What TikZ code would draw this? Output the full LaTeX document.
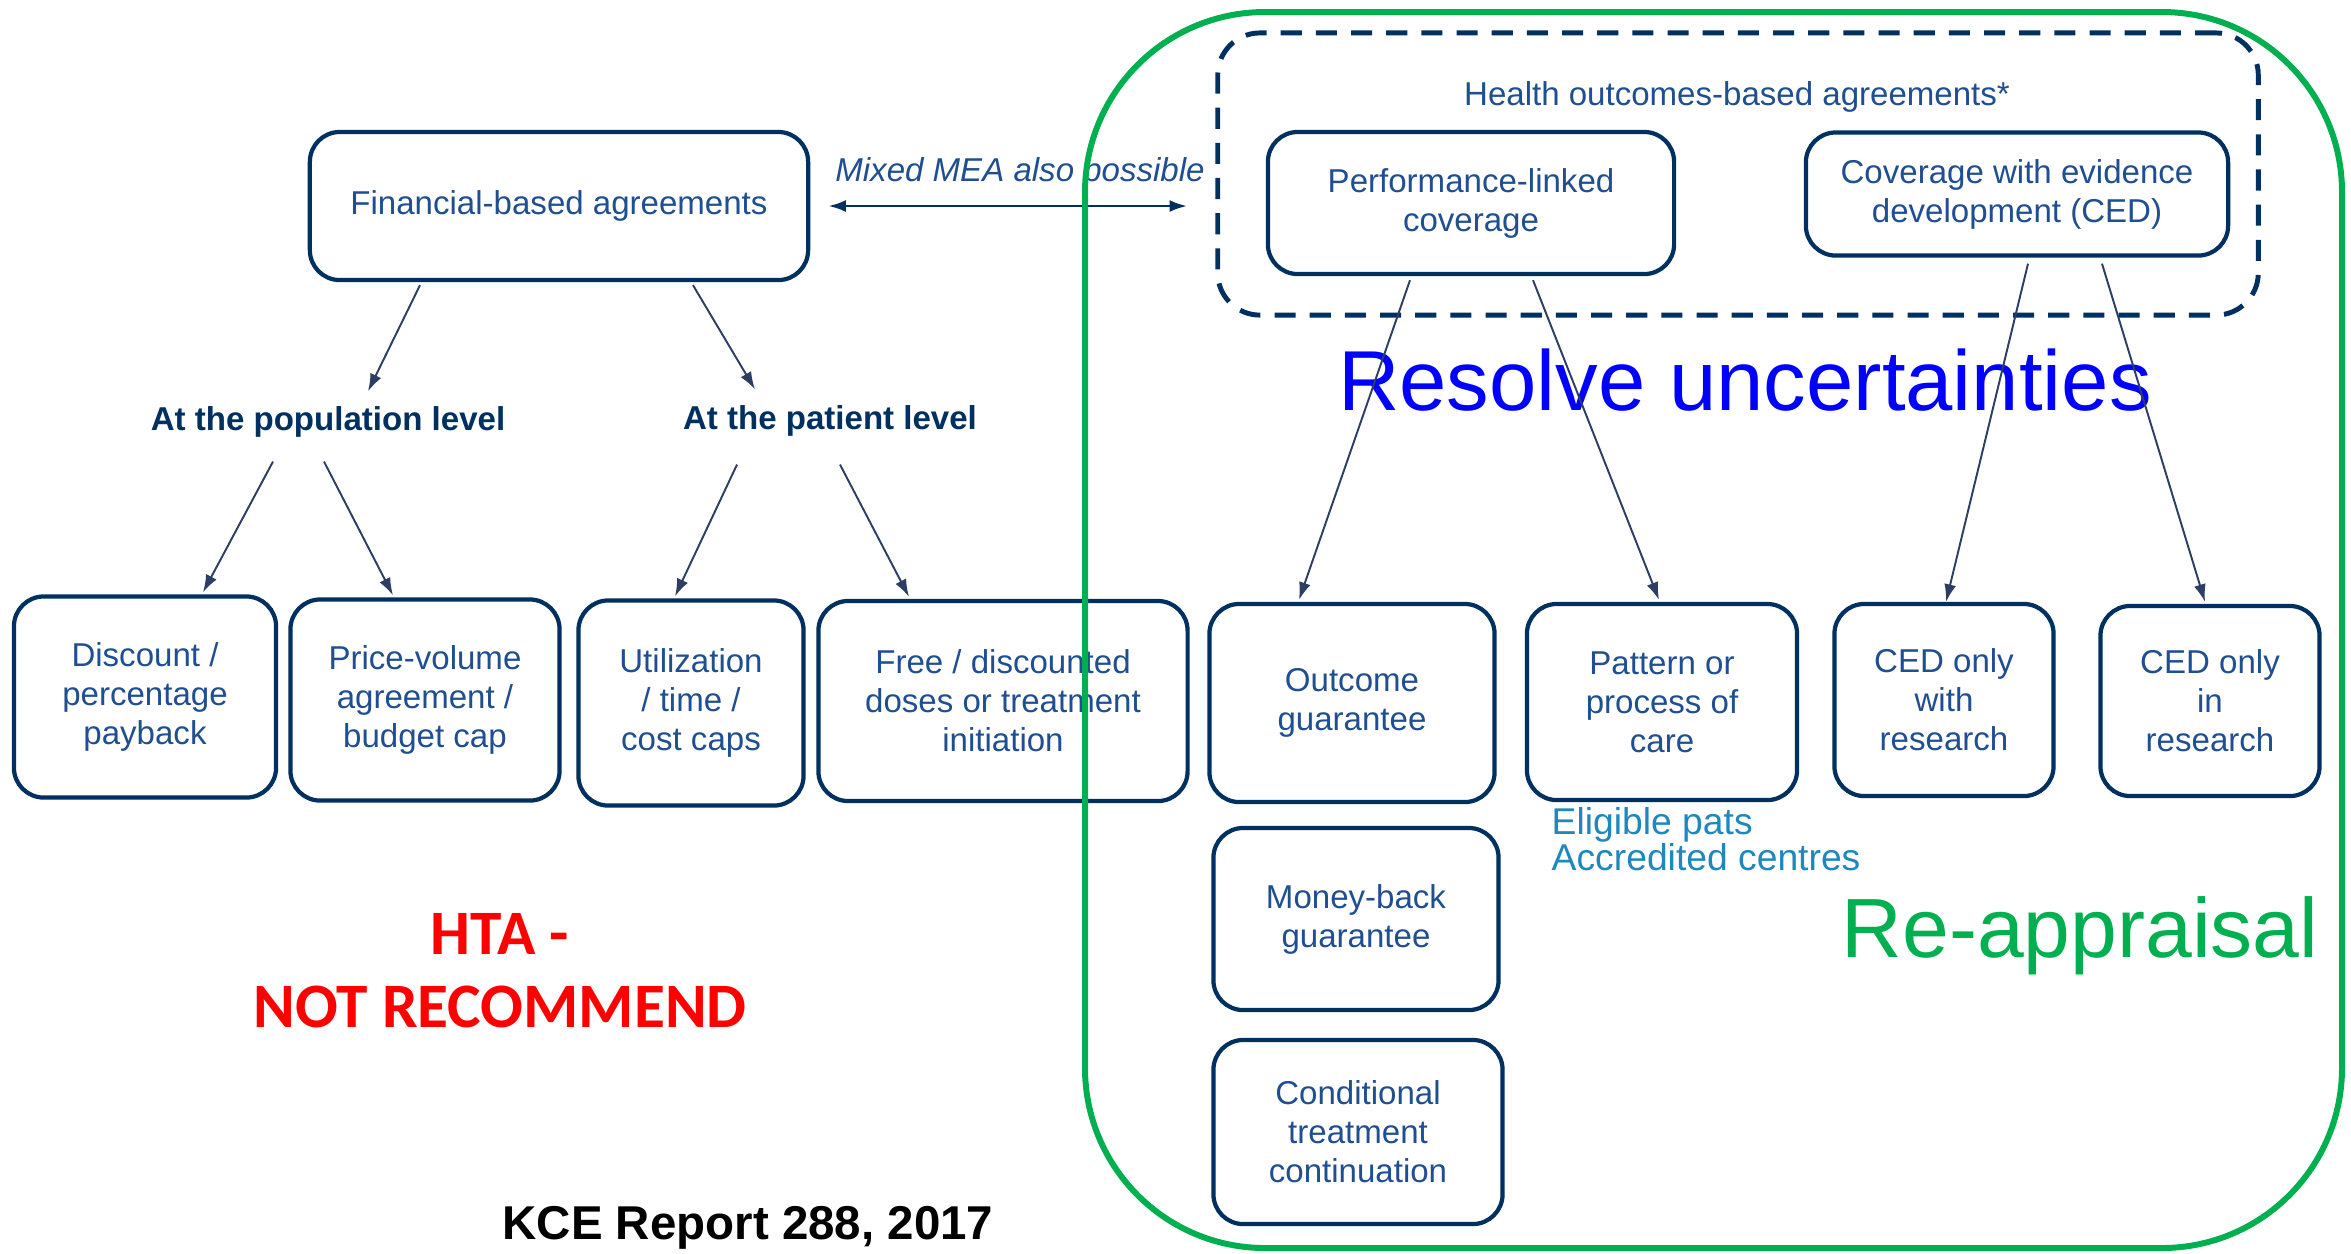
\documentclass[tikz,border=0pt]{standalone}
\usepackage{fontspec}
\setmainfont{Liberation Sans}
\newfontfamily\calibri{Carlito}
\usetikzlibrary{arrows.meta,calc}

\definecolor{navy}{RGB}{0,48,96}
\definecolor{boxtxt}{RGB}{31,78,145}
\definecolor{arrcol}{RGB}{45,62,100}
\definecolor{reapgreen}{RGB}{0,176,80}
\definecolor{elig}{RGB}{30,136,190}

\tikzstyle{box} = [draw=navy, line width=1.2pt, rounded corners=8.5pt, text=boxtxt, align=center, inner sep=0pt, font=\fontsize{9.4}{11.1}\selectfont]
\tikzstyle{lvl} = [text=navy, inner sep=0pt, font=\fontsize{9.4}{11.1}\selectfont\bfseries]
\tikzstyle{arr} = [->, draw=arrcol, line width=0.55pt]

\begin{document}
\begin{tikzpicture}[x=0.01cm, y=-0.01cm,
>={Latex[length=5pt,width=3.4pt]},
]
\useasboundingbox (0,0) rectangle (2351,1253);

%FINANCIAL
\node[box, minimum width=4.98cm, minimum height=1.48cm] (fin) at (559,206) {Financial-based agreements};
\node[lvl, anchor=base] (pop) at (328,430) {At the population level};
\node[lvl, anchor=base] (pat) at (830,429) {At the patient level};

\node[box, minimum width=2.62cm, minimum height=2.01cm] (disc) at (145,697) {Discount /\\percentage\\payback};
\node[box, minimum width=2.69cm, minimum height=2.01cm] (pv) at (425,700) {Price-volume\\agreement /\\budget cap};
\node[box, minimum width=2.25cm, minimum height=2.05cm] (util) at (691,703) {Utilization\\/ time /\\cost caps};
\node[box, minimum width=3.69cm, minimum height=2.00cm] (free) at (1003,701) {Free / discounted\\doses or treatment\\initiation};

\draw[arr] ($(fin.south)+(-139,3)$) -- ($(pop.north)+(40,-14)$);
\draw[arr] ($(fin.south)+(134,3)$) -- ($(pat.north)+(-75,-15)$);
\draw[arr] ($(pop.south)+(-55,24)$) -- ($(disc.north)+(58,-2)$);
\draw[arr] ($(pop.south)+(-4,24)$) -- ($(pv.north)+(-32,-2)$);
\draw[arr] ($(pat.south)+(-93,28)$) -- ($(util.north)+(-16,-2)$);
\draw[arr] ($(pat.south)+(10,28)$) -- ($(free.north)+(-94,-2)$);

%HEALTH OUTCOMES
\node[draw=navy, line width=1.4pt, dash pattern=on 6pt off 4pt, rounded corners=12pt,
      minimum width=10.40cm, minimum height=2.82cm] (hob) at (1738,174) {};
\node[text=boxtxt, anchor=base, font=\fontsize{9.4}{11.1}\selectfont] (hobt) at (1737,105) {Health outcomes-based agreements*};
\node[box, minimum width=4.06cm, minimum height=1.42cm] (perf) at (1471,203) {Performance-linked\\coverage};
\node[box, minimum width=4.22cm, minimum height=1.23cm] (ced) at (2017,194) {Coverage with evidence\\development (CED)};

\node[text=boxtxt, anchor=base, font=\fontsize{9.4}{11.1}\selectfont\itshape] (mea) at (1020,181) {Mixed MEA also possible};
\draw[<->, draw=navy, line width=0.8pt] ($(fin.east)+(18,0)$) -- ($(fin.east -| hob.west)+(-28,0)$);

\node[text=blue, anchor=base, font=\fontsize{24.2}{29}\selectfont] (res) at (1745,410) {Resolve uncertainties};

\node[box, minimum width=2.85cm, minimum height=1.98cm] (outc) at (1352,703) {Outcome\\guarantee};
\node[box, minimum width=2.70cm, minimum height=1.96cm] (patt) at (1662,702) {Pattern or\\process of\\care};
\node[box, minimum width=2.19cm, minimum height=1.92cm] (cedw) at (1944,700) {CED only\\with\\research};
\node[box, minimum width=2.19cm, minimum height=1.90cm] (cedi) at (2210,701) {CED only\\in\\research};
\node[box, minimum width=2.85cm, minimum height=1.82cm] (money) at (1356,919) {Money-back\\guarantee};
\node[box, minimum width=2.89cm, minimum height=1.84cm] (cond) at (1358,1132) {Conditional\\treatment\\continuation};

\draw[arr] ($(perf.south)+(-61,4)$) -- ($(outc.north)+(-53,-2)$);
\draw[arr] ($(perf.south)+(62,4)$) -- ($(patt.north)+(-3,-2)$);
\draw[arr] ($(ced.south)+(11,6)$) -- ($(cedw.north)+(2,0)$);
\draw[arr] ($(ced.south)+(85,6)$) -- ($(cedi.north)+(-5,-2)$);

\node[text=elig, anchor=base west, align=left, inner sep=0pt, font=\fontsize{10.6}{10.2}\selectfont] (eli) at (1551,870) {Eligible pats\\Accredited centres};

%RE-APPRAISAL
\draw[draw=reapgreen, line width=1.7pt, rounded corners=1.8cm] (1085,12) rectangle (2342,1248);
\node[text=reapgreen, anchor=base, font=\fontsize{23.9}{29}\selectfont] (reap) at (2080,957) {Re-appraisal};

%HTA
\node[text=red, anchor=base, align=center, font=\fontsize{18}{20.5}\selectfont\calibri\bfseries] (hta) at (500,1027) {HTA -\\NOT RECOMMEND};
\node[anchor=base, font=\fontsize{13.5}{16}\selectfont\bfseries] (kce) at (748,1239) {KCE Report 288, 2017};
\end{tikzpicture}
\end{document}
